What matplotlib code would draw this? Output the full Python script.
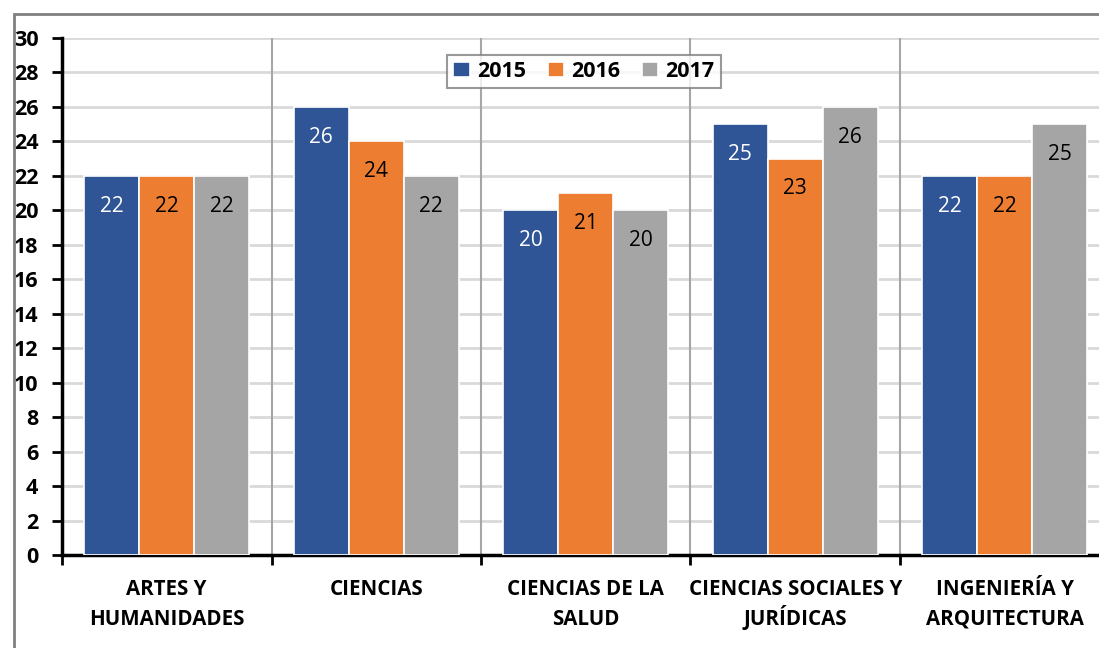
import matplotlib
matplotlib.use("Agg")
import matplotlib.pyplot as plt
import numpy as np
from matplotlib.patches import Rectangle

categories = ["ARTES Y\nHUMANIDADES", "CIENCIAS", "CIENCIAS DE LA\nSALUD",
              "CIENCIAS SOCIALES Y\nJURÍDICAS", "INGENIERÍA Y\nARQUITECTURA"]
years = ["2015", "2016", "2017"]
v2015 = [22, 26, 20, 25, 22]
v2016 = [22, 24, 21, 23, 22]
v2017 = [22, 22, 20, 26, 25]
colors = ["#2F5597", "#ED7D31", "#A5A5A5"]
label_colors = ["white", "black", "black"]

plt.rcParams['font.family'] = ['Open Sans', 'DejaVu Sans']

fig = plt.figure(figsize=(10.99, 6.48), dpi=100)
W, H = 1099, 648
ax = fig.add_axes([62 / W, 1 - 555 / H, (1109.5 - 62) / W, (555 - 38) / H])

# outer frame
fig.patches.append(Rectangle((14 / W, -0.1), 1.2, 1 - 14 / H + 0.1, transform=fig.transFigure,
                             fill=False, edgecolor="#808080", linewidth=2, zorder=0))

x = np.arange(len(categories))
bw = 0.263
series = [v2015, v2016, v2017]
for i, (vals, c, lc, yr) in enumerate(zip(series, colors, label_colors, years)):
    bars = ax.bar(x + (i - 1) * bw, vals, width=bw, color=c, edgecolor="white",
                  linewidth=1.2, label=yr, zorder=3)
    for b, v in zip(bars, vals):
        ax.text(b.get_x() + b.get_width() / 2, v - 1.75, str(v), ha="center", va="center",
                color=lc, fontsize=15, zorder=4)

ax.set_xlim(-0.5, len(categories) - 0.5)
ax.set_ylim(0, 30)
ax.set_yticks(np.arange(0, 31, 2))
ax.yaxis.grid(True, color="#D9D9D9", linewidth=2, zorder=0)
ax.set_axisbelow(True)

# category boundaries
bounds = np.arange(len(categories) + 1) - 0.5
for bnd in bounds[1:-1]:
    ax.axvline(bnd, color="#A6A6A6", linewidth=1.5, zorder=1)
ax.set_xticks(bounds)
ax.set_xticklabels([""] * len(bounds))
ax.tick_params(axis="x", which="major", length=7, width=2, direction="out", color="black")
ax.tick_params(axis="y", length=7, width=2, direction="out", labelsize=15.5, pad=10)
for lab in ax.get_yticklabels():
    lab.set_fontweight("bold")

# category labels, line by line with fixed baselines
px = 72 / 100
for xi, cat in zip(x, categories):
    for li, line in enumerate(cat.split("\n")):
        ax.annotate(line, xy=(xi, 0), xycoords=("data", "axes fraction"),
                    xytext=(0, -(40 + 30 * li) * px), textcoords="offset points",
                    ha="center", va="baseline", fontsize=14.8, fontweight="bold",
                    annotation_clip=False)

for s in ["top", "right"]:
    ax.spines[s].set_visible(False)
ax.spines["left"].set_linewidth(2.5)
ax.spines["bottom"].set_linewidth(2.5)

leg = ax.legend(loc="center", bbox_to_anchor=((584 - 62) / (1109.5 - 62), 1 - (71.5 - 38) / (555 - 38)),
                ncol=3, frameon=True, fancybox=False, edgecolor="#808080",
                prop={"weight": "bold", "size": 15.5}, handlelength=0.75, handleheight=0.75,
                columnspacing=1.0, handletextpad=0.35, borderpad=0.3)
leg.get_frame().set_linewidth(1.5)
leg.set_zorder(5)

fig.savefig("out.png", dpi=100)
